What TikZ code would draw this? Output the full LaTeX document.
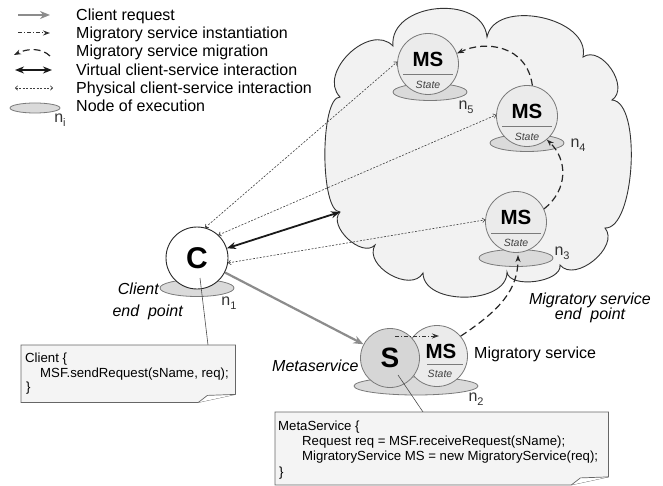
\documentclass[tikz,border=0pt]{standalone}
\usepackage{fontspec}
\setmainfont{Liberation Sans}
\usetikzlibrary{arrows.meta,calc,shapes.geometric}
\definecolor{cloudfill}{HTML}{F2F2F2}
\definecolor{msfill}{HTML}{EBEBEB}
\definecolor{nodefill}{HTML}{DADADA}
\definecolor{sfill}{HTML}{D6D6D6}
\definecolor{edgegray}{HTML}{7A7A7A}
\definecolor{reqgray}{HTML}{8C8C8C}
\definecolor{notefill}{HTML}{F4F4F4}
\newcommand{\myfs}[1]{\fontsize{#1}{#1}\selectfont}
\newcommand{\nlab}[1]{n\raisebox{-4pt}{\myfs{11}#1}}
\tikzset{
  ms/.style={circle, draw=edgegray, fill=msfill, line width=0.8pt, minimum size=61pt, inner sep=0pt},
  exe/.style={ellipse, draw=edgegray, fill=nodefill, line width=0.8pt, inner sep=0pt, minimum width=74pt, minimum height=17pt},
  mstext/.style={font=\myfs{20.5}\bfseries, inner sep=0pt},
  statetext/.style={font=\myfs{10.5}\itshape, text=black!75, inner sep=0pt},
  stateline/.style={draw=edgegray, line width=1pt},
  nlabel/.style={font=\myfs{16}, text=black!80, inner sep=0pt},
  legtext/.style={font=\myfs{16}, anchor=base west, inner sep=0pt},
  plaintext/.style={font=\myfs{16}, inner sep=0pt},
  italtext/.style={font=\myfs{16}\itshape, inner sep=0pt},
  reqarrow/.style={draw=reqgray, line width=2.2pt, -{Stealth[length=10pt,width=8pt]}},
  instarrow/.style={draw=black!80, line width=1pt, dash pattern=on 4pt off 2pt on 1pt off 2pt, -{Stealth[length=7pt,width=5pt]}},
  migarrow/.style={draw=black!85, line width=1.2pt, dash pattern=on 7pt off 4pt, -{Stealth[length=7pt,width=5pt]}},
  virtarrow/.style={draw=black!90, line width=1.8pt, {Stealth[length=9pt,width=7pt]}-{Stealth[length=9pt,width=7pt]}},
  physarrow/.style={draw=black!75, line width=0.6pt, dash pattern=on 2pt off 1.5pt, {To[length=3pt,width=5pt]}-{To[length=3pt,width=5pt]}},
  notebox/.style={draw=black!60, fill=notefill, line width=0.7pt},
  notetext/.style={font=\myfs{13.2}, anchor=base west, inner sep=0pt},
  holder/.style={inner sep=0pt, anchor=north west}
}
\begin{document}
\begin{tikzpicture}[x=1pt,y=-1pt]
\useasboundingbox (0,0) rectangle (663,486);
\fill[white] (0,0) rectangle (663,486);

% ---------- cloud ----------
\coordinate (N1) at (340,97);
\coordinate (N2) at (393,46);
\coordinate (N3) at (487,37);
\coordinate (N4) at (583,57);
\coordinate (N5) at (612,100);
\coordinate (N6) at (605,228);
\coordinate (N7) at (560,265);
\coordinate (N8) at (507,272);
\coordinate (N9) at (423,273);
\coordinate (N10) at (375,245);
\coordinate (vnotch) at (340,212);
\draw[fill=cloudfill, draw=black!80, line width=0.9pt]
  (N1) to[bend left=90, looseness=1.16] (N2)
  to[bend left=90, looseness=1.19] (N3)
  to[bend left=90, looseness=1.05] (N4)
  to[bend left=90, looseness=1.1] (N5)
  to[bend left=90, looseness=0.6] (N6)
  to[bend left=90, looseness=1.05] (N7)
  to[bend left=90, looseness=0.83] (N8)
  to[bend left=90, looseness=1.0] (N9)
  to[bend left=90, looseness=1.1] (N10)
  to[bend left=90, looseness=1.0] (vnotch)
  to[bend left=90, looseness=0.45] (N1) -- cycle;

% ---------- legend ----------
\coordinate (la1) at (18,15); \coordinate (lb1) at (50,15);
\coordinate (la2) at (18,33); \coordinate (lb2) at (50,33);
\coordinate (la3) at (50,56); \coordinate (lb3) at (14,55);
\coordinate (la4) at (15,70); \coordinate (lb4) at (52,70);
\coordinate (la5) at (15,88); \coordinate (lb5) at (53,88);
\draw[reqarrow] (la1) -- (lb1);
\draw[instarrow] (la2) -- (lb2);
\draw[migarrow] (la3) .. controls (42,48) and (28,48) .. (lb3);
\draw[virtarrow] (la4) -- (lb4);
\draw[physarrow] (la5) -- (lb5);
\node[exe, minimum width=50pt, minimum height=10pt] (lege) at (35,108) {};
\node[nlabel] (legn) at (60,120) {\nlab{i}};
\node[legtext] (lt1) at (76,21) {Client request};
\node[legtext] (lt2) at (76,39) {Migratory service instantiation};
\node[legtext] (lt3) at (76,57) {Migratory service migration};
\node[legtext] (lt4) at (76,76) {Virtual client-service interaction};
\node[legtext] (lt5) at (76,94) {Physical client-service interaction};
\node[legtext] (lt6) at (76,112) {Node of execution};

% ---------- nodes of execution ----------
\node[exe] (e5) at (430,92) {};
\node[exe] (e4) at (527,143) {};
\node[exe] (e3) at (516,258) {};
\node[exe, minimum width=124pt, minimum height=18pt] (e2) at (416,386) {};
\node[exe] (e1) at (197,288) {};

% ---------- MS nodes ----------
\foreach \n/\px/\py in {m5/428/64, m4/527/116, m3/516/222}{
  \node[ms] (\n) at (\px,\py) {};
  \node[mstext] (\n t) at ($(\n)+(0,-5)$) {MS};
  \draw[stateline] ($(\n)+(-25,11)$) -- ($(\n)+(25,11)$);
  \node[statetext] (\n s) at ($(\n)+(0,21)$) {State};
}
\node[ms] (mi) at (437,356) {};
\node[mstext] (mit) at ($(mi)+(4,-5)$) {MS};
\draw[stateline] ($(mi)+(-10,8)$) -- ($(mi)+(26,8)$);
\node[statetext] (mis) at ($(mi)+(3,18)$) {State};
\node[circle, draw=edgegray, fill=sfill, line width=0.8pt, minimum size=59pt, inner sep=0pt, font=\myfs{28}\bfseries] (S) at (390,358) {S};
\node[circle, draw=black!85, fill=white, line width=0.9pt, minimum size=62pt, inner sep=0pt, font=\myfs{30}\bfseries] (C) at (197,258) {C};

% ---------- labels ----------
\node[nlabel] (n5) at (466,107) {\nlab{5}};
\node[nlabel] (n4) at (578,145) {\nlab{4}};
\node[nlabel] (n3) at (562,253) {\nlab{3}};
\node[nlabel] (n2) at (476,399) {\nlab{2}};
\node[nlabel] (n1) at (229,303) {\nlab{1}};
\node[italtext, anchor=base east] (cl1) at (159,294) {Client};
\node[italtext, anchor=base east] (cl2) at (183,316) {end\ \ point};
\node[italtext, anchor=base] (ms1) at (590,304) {Migratory service};
\node[italtext, anchor=base] (ms2) at (590,319) {end\ \ point};
\node[italtext, anchor=base west] (meta) at (272,371) {Metaservice};
\node[plaintext, anchor=base west] (migs) at (474,358) {Migratory service};

% ---------- connectors ----------
\draw[physarrow] (C.75) -- (m5.176);
\draw[physarrow] (C.47) -- (m4.178);
\draw[physarrow] (C.-9) -- (m3.176);
\draw[virtarrow] (C.18) -- (vnotch);
\draw[reqarrow] (C) -- (S);
\draw[instarrow] ($(S)+(5,-22)$) -- ($(mi)+(2,-20)$);
\draw[migarrow] (mi.40) .. controls (500,310) and (518,290) .. ($(e3)+(2,-3)$);
\draw[migarrow] (m3.25) .. controls (568,190) and (568,160) .. (m4.-50);
\draw[migarrow] (m4.80) .. controls (527,45) and (485,40) .. (m5.20);

% ---------- notes ----------
\node[holder, minimum width=214pt, minimum height=57pt] (cnote) at (21,345) {};
\draw[black!70, line width=0.6pt] ($(C)+(3,20)$) -- ($(cnote.north west)+(187,0)$);
\draw[notebox] (cnote.north west) -- (cnote.north east) -- ($(cnote.south east)+(0,-8)$)
  -- ($(cnote.south east)+(-37,0)$) -- (cnote.south west) -- cycle;
\draw[notebox, fill=white] ($(cnote.south east)+(-37,0)$) -- ($(cnote.south east)+(-28,-7)$) -- ($(cnote.south east)+(0,-8)$);
\node[notetext] (ct1) at (25,362) {Client \{};
\node[notetext] (ct2) at (40,377) {MSF.sendRequest(sName, req);};
\node[notetext] (ct3) at (26,391) {\}};

\node[holder, minimum width=333pt, minimum height=72.5pt] (mnote) at (275,412) {};
\draw[black!70, line width=0.6pt] ($(S)+(8,17)$) -- ($(mnote.north west)+(148,0)$);
\draw[notebox] (mnote.north west) -- (mnote.north east) -- ($(mnote.south east)+(0,-8)$)
  -- ($(mnote.south east)+(-37,0)$) -- (mnote.south west) -- cycle;
\draw[notebox, fill=white] ($(mnote.south east)+(-37,0)$) -- ($(mnote.south east)+(-28,-7)$) -- ($(mnote.south east)+(0,-8)$);
\node[notetext] (mt1) at (278,430) {MetaService \{};
\node[notetext] (mt2) at (302,445) {Request req = MSF.receiveRequest(sName);};
\node[notetext] (mt3) at (302,460) {MigratoryService MS = new MigratoryService(req);};
\node[notetext] (mt4) at (279,476) {\}};
\end{tikzpicture}
\end{document}
